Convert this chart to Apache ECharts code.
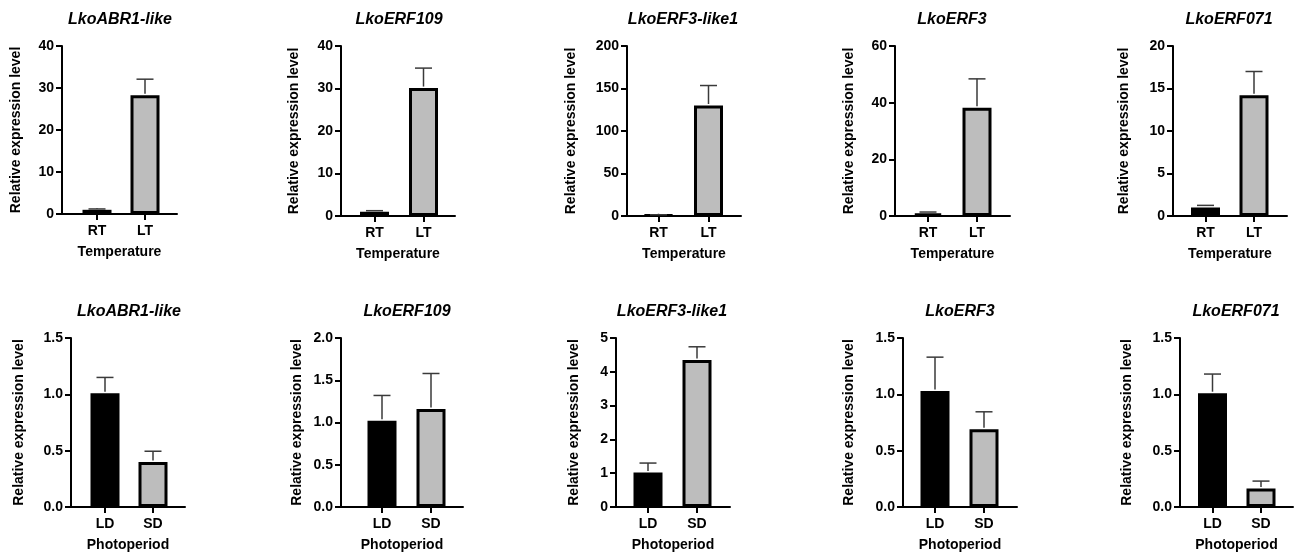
<!DOCTYPE html>
<html>
<head>
<meta charset="utf-8">
<script src="https://cdn.jsdelivr.net/npm/echarts@6/dist/echarts.min.js"></script>
<style>
  html, body { margin: 0; padding: 0; background: #fff; }
  #chart { width: 1295px; height: 553px; }
</style>
</head>
<body>
<div id="chart"></div>
<script>
// gene names (panel titles)
const genes = ['LkoABR1-like', 'LkoERF109', 'LkoERF3-like1', 'LkoERF3', 'LkoERF071']

// temperature experiment (top row)
const tempGroups = ['RT', 'LT']
const tempMean = [[1.0, 28.3], [1.0, 30.1], [0.9, 130], [0.9, 38.2], [1.0, 14.2]]
const tempErr = [[0.2, 3.8], [0.25, 4.7], [0.6, 23.5], [0.5, 10.2], [0.25, 2.8]]
const tempYMax = [40, 40, 200, 60, 20]
const tempYStep = [10, 10, 50, 20, 5]
const tempYDecimals = [0, 0, 0, 0, 0]

// photoperiod experiment (bottom row)
const photoGroups = ['LD', 'SD']
const photoMean = [[1.01, 0.40], [1.02, 1.16], [1.02, 4.35], [1.03, 0.69], [1.01, 0.165]]
const photoErr = [[0.14, 0.095], [0.30, 0.42], [0.28, 0.39], [0.30, 0.155], [0.17, 0.065]]
const photoYMax = [1.5, 2, 5, 1.5, 1.5]
const photoYStep = [0.5, 0.5, 1, 0.5, 0.5]
const photoYDecimals = [1, 1, 0, 1, 1]

// layout (pixels)
const topRow = { top: 46, height: 170, titleTop: 12, xName: 'Temperature' }
const bottomRow = { top: 338, height: 171, titleTop: 304, xName: 'Photoperiod' }
const topPanels = [
  { left: 62, width: 115, offset: 35, step: 48, nameGap: 39, title: 120, height: 168 },
  { left: 341, width: 114, offset: 33.5, step: 49, nameGap: 40, title: 399 },
  { left: 627, width: 114, offset: 31.5, step: 50, nameGap: 49, title: 683 },
  { left: 895, width: 115, offset: 33, step: 49, nameGap: 39, title: 952 },
  { left: 1173, width: 114, offset: 32.5, step: 48.5, nameGap: 42, title: 1229 }
]
const bottomPanels = [
  { left: 71, width: 114, offset: 34, step: 48, nameGap: 45, title: 129, height: 169 },
  { left: 341, width: 122, offset: 41, step: 49, nameGap: 37, title: 407 },
  { left: 616, width: 114, offset: 32, step: 49, nameGap: 35, title: 672 },
  { left: 903, width: 114, offset: 32, step: 49, nameGap: 47, title: 960 },
  { left: 1180, width: 113, offset: 32.5, step: 48.5, nameGap: 46, title: 1236 }
]

const fills = ['#000000', '#bdbdbd']
const font = "'Liberation Sans', Arial, sans-serif"
const barWidth = 29
const capWidth = 17

const chart = echarts.init(document.getElementById('chart'))

const titles = []
const grids = []
const xAxes = []
const yAxes = []
const series = []

function addPanel (row, p, gene, groups, mean, err, yMax, yStep, decimals) {
  const idx = grids.length
  const h = p.height || row.height
  grids.push({ left: p.left, top: row.top, width: p.width, height: h, containLabel: false })
  titles.push({
    text: gene,
    left: p.title,
    top: row.titleTop,
    textAlign: 'center',
    padding: 0,
    textStyle: { fontFamily: font, fontSize: 16, fontWeight: 'bold', fontStyle: 'italic', color: '#000' }
  })
  const xMin = 1 - p.offset / p.step
  const xMax = xMin + p.width / p.step
  const ticks = groups.map((g, i) => i + 1)
  xAxes.push({
    gridIndex: idx,
    type: 'value',
    min: xMin,
    max: xMax,
    name: row.xName,
    nameLocation: 'middle',
    nameGap: 31,
    nameTextStyle: { fontFamily: font, fontSize: 14, fontWeight: 'bold', color: '#000' },
    axisLine: { show: true, lineStyle: { color: '#000', width: 2 } },
    axisTick: { show: true, customValues: ticks, length: 6, lineStyle: { color: '#000', width: 2 } },
    axisLabel: {
      customValues: ticks,
      margin: 10,
      fontFamily: font,
      fontSize: 14,
      fontWeight: 'bold',
      color: '#000',
      formatter: v => groups[Math.round(v) - 1] || ''
    },
    splitLine: { show: false }
  })
  yAxes.push({
    gridIndex: idx,
    type: 'value',
    min: 0,
    max: yMax,
    interval: yStep,
    name: 'Relative expression level',
    nameLocation: 'middle',
    nameRotate: 90,
    nameGap: p.nameGap,
    nameTextStyle: { fontFamily: font, fontSize: 14, fontWeight: 'bold', color: '#000' },
    axisLine: { show: true, lineStyle: { color: '#000', width: 2 } },
    axisTick: { show: true, length: 6, lineStyle: { color: '#000', width: 2 } },
    axisLabel: {
      margin: 8,
      fontFamily: font,
      fontSize: 14,
      fontWeight: 'bold',
      color: '#000',
      formatter: v => Number(v).toFixed(decimals)
    },
    splitLine: { show: false }
  })
  series.push({
    type: 'bar',
    xAxisIndex: idx,
    yAxisIndex: idx,
    barWidth: barWidth,
    silent: true,
    animation: false,
    data: mean.map((m, i) => ({
      value: [i + 1, m],
      itemStyle: { color: fills[i], borderColor: '#000', borderWidth: 3 }
    }))
  })
  series.push({
    type: 'custom',
    xAxisIndex: idx,
    yAxisIndex: idx,
    silent: true,
    animation: false,
    z: 3,
    data: mean.map((m, i) => [i + 1, m, err[i]]),
    renderItem (params, api) {
      const x = api.value(0)
      const m = api.value(1)
      const e = api.value(2)
      const base = api.coord([x, m])
      const top = api.coord([x, m + e])
      const style = { stroke: '#3a3a3a', lineWidth: 1.5 }
      return {
        type: 'group',
        children: [
          { type: 'line', shape: { x1: base[0], y1: base[1] - 1.5, x2: top[0], y2: top[1] }, style },
          { type: 'line', shape: { x1: top[0] - capWidth / 2, y1: top[1], x2: top[0] + capWidth / 2, y2: top[1] }, style }
        ]
      }
    }
  })
}

genes.forEach((g, i) => {
  addPanel(topRow, topPanels[i], g, tempGroups, tempMean[i], tempErr[i], tempYMax[i], tempYStep[i], tempYDecimals[i])
})
genes.forEach((g, i) => {
  addPanel(bottomRow, bottomPanels[i], g, photoGroups, photoMean[i], photoErr[i], photoYMax[i], photoYStep[i], photoYDecimals[i])
})

chart.setOption({
  backgroundColor: '#fff',
  animation: false,
  title: titles,
  grid: grids,
  xAxis: xAxes,
  yAxis: yAxes,
  series: series
})
</script>
</body>
</html>
